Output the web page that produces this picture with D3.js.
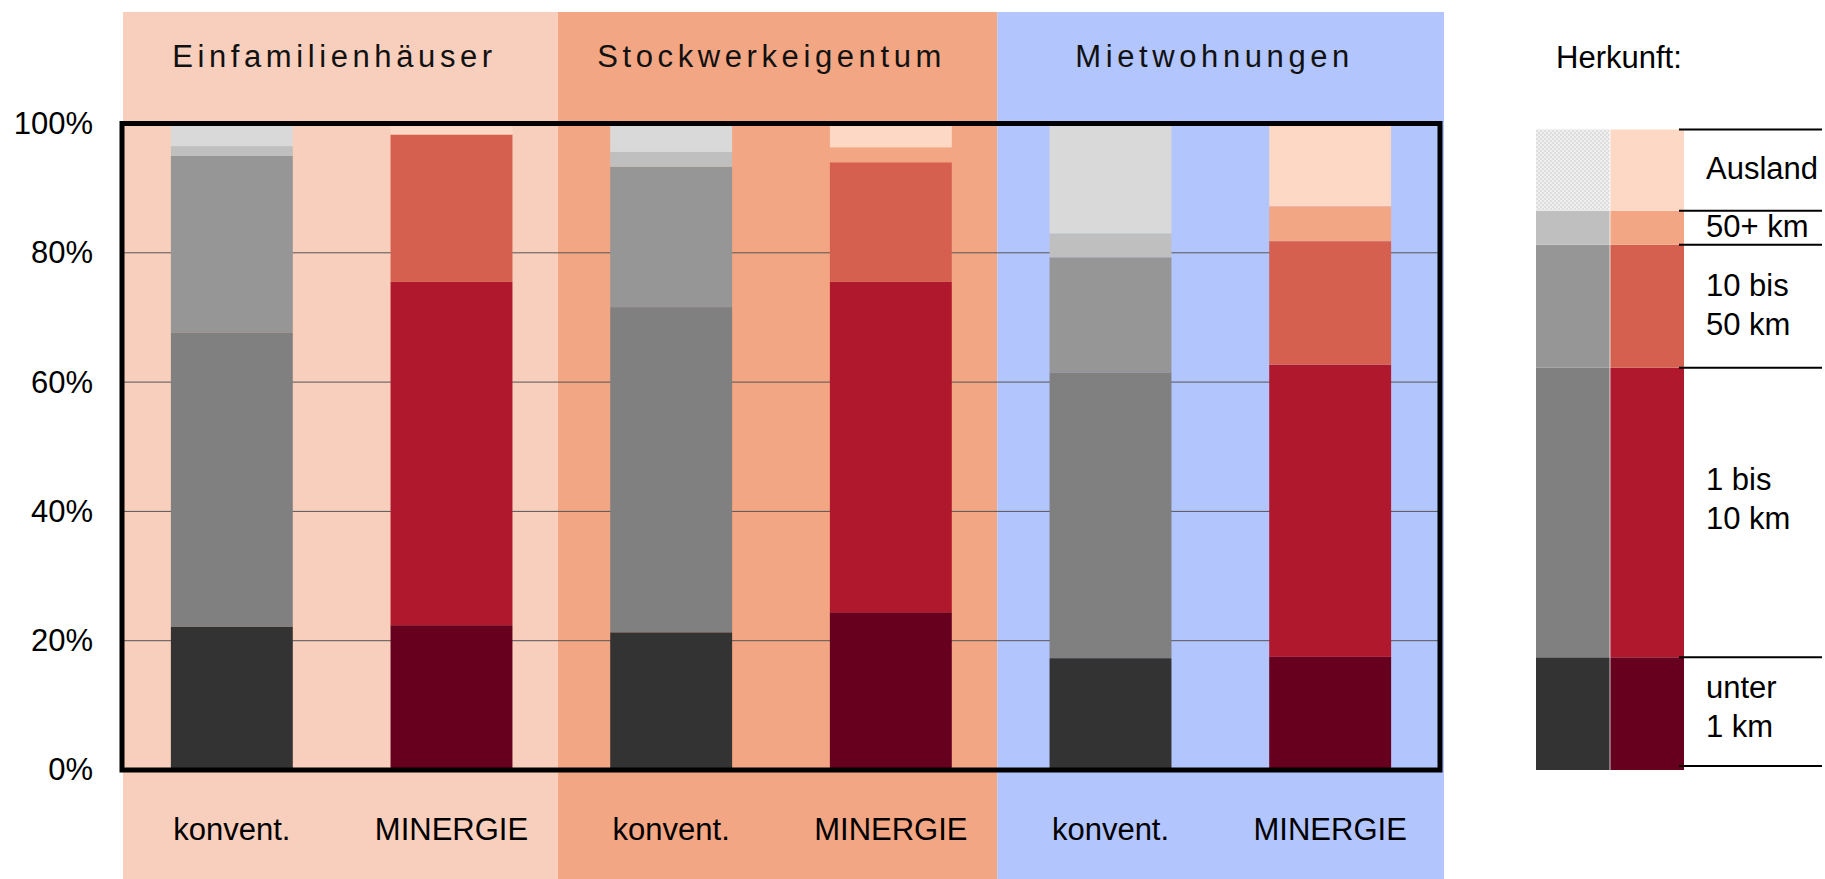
<!DOCTYPE html>
<html>
<head>
<meta charset="utf-8">
<script src="https://cdn.jsdelivr.net/npm/d3@7"></script>
<style>
  body { margin: 0; background: #fff; }
  svg { display: block; font-family: "Liberation Sans", Arial, sans-serif; }
</style>
</head>
<body>
<div id="chart"></div>
<script>
// categories
const sections = ["Einfamilienhäuser", "Stockwerkeigentum", "Mietwohnungen"];
const barTypes = ["konvent.", "MINERGIE", "konvent.", "MINERGIE", "konvent.", "MINERGIE"];
const origins = ["unter 1 km", "1 bis 10 km", "10 bis 50 km", "50+ km", "Ausland"];

// shares in % per origin, one value per bar (left to right)
const unter1km  = [22.2, 22.4, 21.3, 24.4, 17.3, 17.5];
const bis10km   = [45.5, 53.1, 50.3, 51.1, 44.2, 45.2];
const bis50km   = [27.3, 22.8, 21.7, 18.5, 17.8, 19.1];
const ueber50km = [1.5, 0.0, 2.3, 2.3, 3.7, 5.4];
const ausland   = [3.5, 1.7, 4.4, 3.7, 17.0, 12.8];

// legend bar (same shape as Mietwohnungen MINERGIE)
const legendShares = [17.6, 45.2, 19.2, 5.3, 12.7];
const legendLabels = [["unter", "1 km"], ["1 bis", "10 km"], ["10 bis", "50 km"], ["50+ km"], ["Ausland"]];

const yTicks = [0, 20, 40, 60, 80, 100];

// colours
const sectionColors = ["#f8cfbd", "#f3a683", "#b3c5fd"];
const grayColors = ["#333333", "#808080", "#969696", "#bfbfbf", "#d9d9d9"];
const redColors = ["#67001f", "#b0182d", "#d6604f", "#f3a683", "#fdd9c5"];

const width = 1825, height = 879;
const frame = {left: 122, right: 1440, top: 123.5, bottom: 770};

const svg = d3.select("#chart").append("svg")
    .attr("width", width)
    .attr("height", height);

// pattern for the grey "Ausland" legend box
const pat = svg.append("defs").append("pattern")
    .attr("id", "dither")
    .attr("width", 4).attr("height", 4)
    .attr("patternUnits", "userSpaceOnUse");
pat.append("rect").attr("width", 4).attr("height", 4).attr("fill", "#dedede");
pat.append("rect").attr("width", 2).attr("height", 2).attr("fill", "#efefef");
pat.append("rect").attr("x", 2).attr("y", 2).attr("width", 2).attr("height", 2).attr("fill", "#efefef");

// build table + stack
const ids = barTypes.map((t, i) => "b" + i);
const keys = ["u1", "b10", "b50", "ue50", "aus"];
const series = [unter1km, bis10km, bis50km, ueber50km, ausland];
const table = ids.map((id, i) => {
    const row = {id: id, type: barTypes[i]};
    keys.forEach((k, j) => { row[k] = series[j][i]; });
    return row;
});
const stacked = d3.stack().keys(keys)(table);

// scales
const x = d3.scaleBand()
    .domain(ids)
    .range([frame.left, frame.right])
    .paddingInner(0.445)
    .paddingOuter(0.2225);

const y = d3.scaleLinear()
    .domain([0, 100])
    .range([frame.bottom, frame.top]);

// background panels for the three building types
const gap = (x.step() - x.bandwidth()) / 2 * 1.07;
const panelX0 = i => i === 0 ? frame.left + 1 : x(ids[i * 2]) - gap;
const panelX1 = i => i === 2 ? frame.right + 4 : x(ids[i * 2 + 2]) - gap;

svg.append("g").selectAll("rect")
    .data(sections)
    .join("rect")
    .attr("x", (d, i) => panelX0(i))
    .attr("width", (d, i) => panelX1(i) - panelX0(i))
    .attr("y", 12)
    .attr("height", height - 12)
    .attr("fill", (d, i) => sectionColors[i]);

// section titles
svg.append("g").selectAll("text")
    .data(sections)
    .join("text")
    .attr("x", (d, i) => (panelX0(i) + panelX1(i)) / 2 - 6)
    .attr("y", 67)
    .attr("text-anchor", "middle")
    .attr("font-size", 31)
    .attr("letter-spacing", "4.6px")
    .attr("fill", "#111")
    .text(d => d);

// gridlines
svg.append("g").selectAll("line")
    .data(yTicks.filter(t => t > 0 && t < 100))
    .join("line")
    .attr("x1", frame.left).attr("x2", frame.right)
    .attr("y1", d => y(d)).attr("y2", d => y(d))
    .attr("stroke", "#555")
    .attr("stroke-width", 1);

// stacked bars
svg.append("g").selectAll("g")
    .data(stacked)
    .join("g")
    .selectAll("rect")
    .data((s, j) => s.map(d => Object.assign(d, {level: j})))
    .join("rect")
    .attr("x", d => x(d.data.id))
    .attr("width", x.bandwidth())
    .attr("y", d => y(d[1]))
    .attr("height", d => y(d[0]) - y(d[1]))
    .attr("fill", d => d.data.type === "MINERGIE" ? redColors[d.level] : grayColors[d.level]);

// frame
svg.append("rect")
    .attr("x", frame.left).attr("y", frame.top)
    .attr("width", frame.right - frame.left)
    .attr("height", frame.bottom - frame.top)
    .attr("fill", "none")
    .attr("stroke", "#000")
    .attr("stroke-width", 5);

// y axis
const yAxis = svg.append("g")
    .attr("transform", `translate(${frame.left},0)`)
    .call(d3.axisLeft(y).tickValues(yTicks).tickSize(0).tickPadding(29).tickFormat(d => d + "%"));
yAxis.select(".domain").remove();
yAxis.selectAll("text").attr("font-size", 31).attr("font-family", "Liberation Sans, Arial").attr("fill", "#000");

// x axis
const xAxis = svg.append("g")
    .attr("transform", `translate(0,${frame.bottom})`)
    .call(d3.axisBottom(x).tickSize(0).tickPadding(48).tickFormat((d, i) => barTypes[i]));
xAxis.select(".domain").remove();
xAxis.selectAll("text").attr("font-size", 31).attr("font-family", "Liberation Sans, Arial").attr("fill", "#000");

// legend
const lx = d3.scaleBand()
    .domain(["grau", "rot"])
    .range([1536, 1684])
    .paddingInner(0.01);
const ly = d3.scaleLinear()
    .domain([0, 100])
    .range([770, 129.5]);

const legendStack = [];
let acc = 0;
legendShares.forEach((v, j) => {
    legendStack.push({level: j, y0: acc, y1: acc + v, label: legendLabels[j]});
    acc += v;
});

const legend = svg.append("g");

legend.append("text")
    .attr("x", 1556).attr("y", 68)
    .attr("font-size", 31)
    .text("Herkunft:");

legend.selectAll("rect.grau")
    .data(legendStack)
    .join("rect")
    .attr("class", "grau")
    .attr("x", lx("grau"))
    .attr("width", lx.bandwidth())
    .attr("y", d => ly(d.y1))
    .attr("height", d => ly(d.y0) - ly(d.y1))
    .attr("fill", d => d.level === 4 ? "url(#dither)" : grayColors[d.level]);

legend.selectAll("rect.rot")
    .data(legendStack)
    .join("rect")
    .attr("class", "rot")
    .attr("x", lx("rot"))
    .attr("width", lx.bandwidth())
    .attr("y", d => ly(d.y1))
    .attr("height", d => ly(d.y0) - ly(d.y1))
    .attr("fill", d => redColors[d.level]);

// separator lines at segment boundaries
const bounds = [0].concat(legendStack.map(d => d.y1));
legend.selectAll("line")
    .data(bounds)
    .join("line")
    .attr("x1", 1679).attr("x2", 1822)
    .attr("y1", d => ly(d) - (d === 0 ? 4 : 0)).attr("y2", d => ly(d) - (d === 0 ? 4 : 0))
    .attr("stroke", "#000")
    .attr("stroke-width", 2);

// labels (the tall 1-10 km box has its text a bit above centre)
const lineH = 39.5;
legend.selectAll("text.lab")
    .data(legendStack)
    .join("text")
    .attr("class", "lab")
    .attr("font-size", 31)
    .each(function(d) {
        const mid = (ly(d.y0) + ly(d.y1)) / 2 - (d.level === 1 ? 12 : d.level === 0 ? 5 : 0);
        const first = mid - (d.label.length - 1) * lineH / 2 + 9;
        d3.select(this).selectAll("tspan")
            .data(d.label)
            .join("tspan")
            .attr("x", 1706)
            .attr("y", (t, k) => first + k * lineH)
            .text(t => t);
    });
</script>
</body>
</html>
